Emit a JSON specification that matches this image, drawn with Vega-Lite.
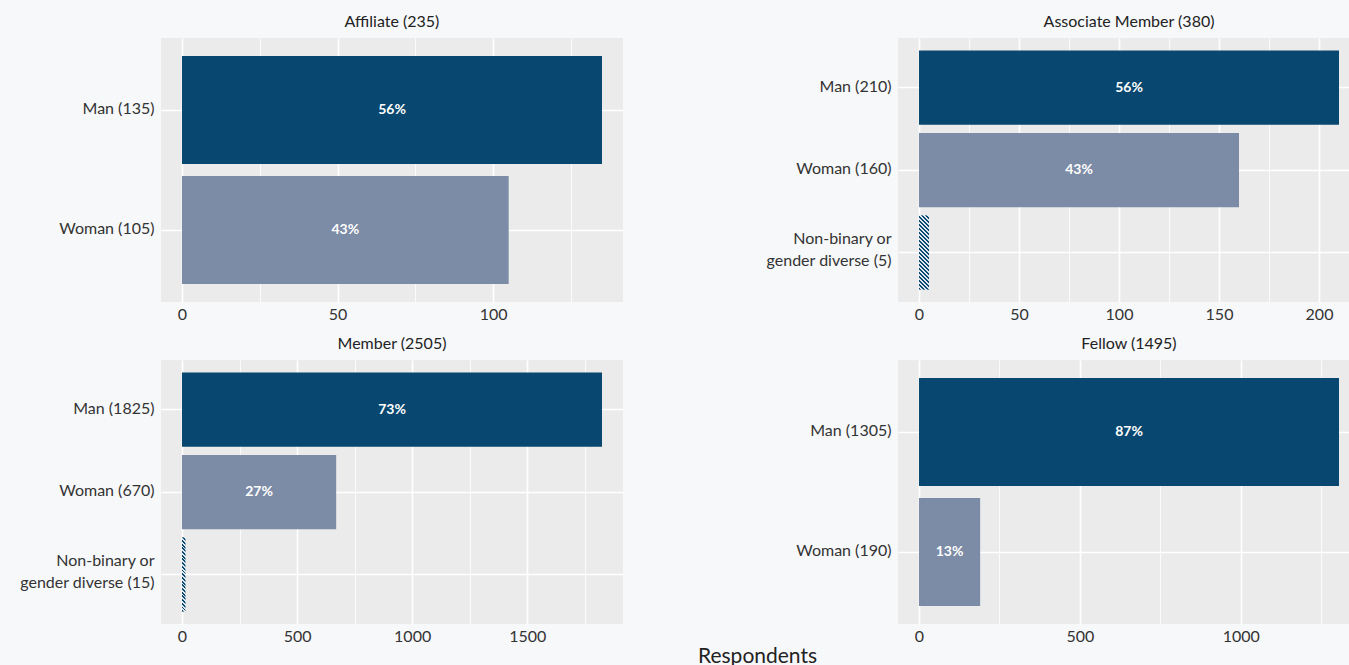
{
  "$schema": "https://vega.github.io/schema/vega-lite/v6.json",
  "background": "#f7f8fa",
  "padding": {"left": 5, "top": 14, "right": 0, "bottom": 0},
  "config": {
    "font": "Lato",
    "view": {"fill": "#ebebeb", "stroke": null},
    "axis": {"labelFont": "Lato", "labelFontSize": 16, "labelColor": "#333333", "ticks": false, "domain": false, "gridColor": "#ffffff"},
    "title": {"font": "Lato", "fontSize": 16, "fontWeight": "normal", "color": "#222222", "offset": 8}
  },
  "title": {"text": "Respondents", "orient": "bottom", "anchor": "middle", "fontSize": 21, "offset": 2, "dx": 75},
  "data": {"values": [
    {"panel": "Affiliate", "label": "Man (135)", "gender": "Man", "n": 135, "pct": "56%", "order": 1},
    {"panel": "Affiliate", "label": "Woman (105)", "gender": "Woman", "n": 105, "pct": "43%", "order": 2},
    {"panel": "Associate", "label": "Man (210)", "gender": "Man", "n": 210, "pct": "56%", "order": 1},
    {"panel": "Associate", "label": "Woman (160)", "gender": "Woman", "n": 160, "pct": "43%", "order": 2},
    {"panel": "Associate", "label": "Non-binary or\ngender diverse (5)", "gender": "Non-binary", "n": 5, "pct": "", "order": 3},
    {"panel": "Member", "label": "Man (1825)", "gender": "Man", "n": 1825, "pct": "73%", "order": 1},
    {"panel": "Member", "label": "Woman (670)", "gender": "Woman", "n": 670, "pct": "27%", "order": 2},
    {"panel": "Member", "label": "Non-binary or\ngender diverse (15)", "gender": "Non-binary", "n": 15, "pct": "", "order": 3},
    {"panel": "Fellow", "label": "Man (1305)", "gender": "Man", "n": 1305, "pct": "87%", "order": 1},
    {"panel": "Fellow", "label": "Woman (190)", "gender": "Woman", "n": 190, "pct": "13%", "order": 2}
  ]},
  "columns": 2,
  "spacing": {"row": 14, "column": 142},
  "resolve": {"scale": {"x": "independent", "y": "independent"}},
  "concat": [
    {
      "title": "Affiliate (235)",
      "width": 462, "height": 264,
      "transform": [{"filter": "datum.panel === 'Affiliate'"}],
      "encoding": {"y": {"field": "label", "type": "nominal", "sort": {"field": "order", "op": "min"}, "scale": {"paddingInner": 0.1, "paddingOuter": 0.15}, "axis": {"title": null, "labelPadding": 7, "labelExpr": "split(datum.label, '\\n')", "labelLineHeight": 22, "labelOffset": {"condition": {"test": "indexof(datum.value, '\\n') >= 0", "value": -14}, "value": -1}, "labelLimit": 300, "minExtent": 156, "maxExtent": 156, "grid": true, "gridWidth": 1.6, "bandPosition": 0.5}}},
      "layer": [
        {"transform": [{"filter": "datum.gender !== 'Non-binary'"}], "mark": {"type": "bar"},
         "encoding": {"x": {"field": "n", "type": "quantitative", "scale": {"domain": [-6.75, 141.75], "nice": false, "zero": false}, "axis": {"title": null, "values": [0, 25, 50, 75, 100, 125], "format": "d", "labelExpr": "datum.value % 50 === 0 ? datum.label : ''", "labelPadding": 4, "gridWidth": {"condition": {"test": "datum.value % 50 === 0", "value": 1.6}, "value": 0.8}}},
           "color": {"field": "gender", "type": "nominal", "scale": {"domain": ["Man", "Woman"], "range": ["#08476f", "#7c8ba6"]}, "legend": null}}},
        {"transform": [{"filter": "datum.pct !== ''"}], "mark": {"type": "text", "color": "#ffffff", "fontWeight": "bold", "fontSize": 14, "font": "Lato"},
         "encoding": {"x": {"field": "n", "type": "quantitative", "scale": {"domain": [-13.5, 283.5], "nice": false, "zero": false}, "axis": null}, "text": {"field": "pct"}}}
      ],
      "resolve": {"scale": {"x": "independent"}}
    },
    {
      "title": "Associate Member (380)",
      "width": 462, "height": 264,
      "transform": [{"filter": "datum.panel === 'Associate'"}],
      "encoding": {"y": {"field": "label", "type": "nominal", "sort": {"field": "order", "op": "min"}, "scale": {"paddingInner": 0.1, "paddingOuter": 0.15}, "axis": {"title": null, "labelPadding": 7, "labelExpr": "split(datum.label, '\\n')", "labelLineHeight": 22, "labelOffset": {"condition": {"test": "indexof(datum.value, '\\n') >= 0", "value": -14}, "value": -1}, "labelLimit": 300, "minExtent": 125, "maxExtent": 125, "grid": true, "gridWidth": 1.6, "bandPosition": 0.5}}},
      "layer": [
        {"transform": [{"filter": "datum.gender !== 'Non-binary'"}], "mark": {"type": "bar"},
         "encoding": {"x": {"field": "n", "type": "quantitative", "scale": {"domain": [-10.5, 220.5], "nice": false, "zero": false}, "axis": {"title": null, "values": [0, 25, 50, 75, 100, 125, 150, 175, 200], "format": "d", "labelExpr": "datum.value % 50 === 0 ? datum.label : ''", "labelPadding": 4, "gridWidth": {"condition": {"test": "datum.value % 50 === 0", "value": 1.6}, "value": 0.8}}},
           "color": {"field": "gender", "type": "nominal", "scale": {"domain": ["Man", "Woman"], "range": ["#08476f", "#7c8ba6"]}, "legend": null}}},
        {"transform": [{"filter": "datum.gender === 'Non-binary'"}],
         "mark": {"type": "bar", "fill": {"gradient": "linear", "x1": 0, "y1": 1, "x2": 0.1505, "y2": -0.115, "stops": [
           {"offset": 0, "color": "#0a4a72"}, {"offset": 0.0238, "color": "#0a4a72"}, {"offset": 0.0238, "color": "#dfe7ee"}, {"offset": 0.0476, "color": "#dfe7ee"},
           {"offset": 0.0476, "color": "#0a4a72"}, {"offset": 0.0714, "color": "#0a4a72"}, {"offset": 0.0714, "color": "#dfe7ee"}, {"offset": 0.0952, "color": "#dfe7ee"},
           {"offset": 0.0952, "color": "#0a4a72"}, {"offset": 0.1190, "color": "#0a4a72"}, {"offset": 0.1190, "color": "#dfe7ee"}, {"offset": 0.1429, "color": "#dfe7ee"},
           {"offset": 0.1429, "color": "#0a4a72"}, {"offset": 0.1667, "color": "#0a4a72"}, {"offset": 0.1667, "color": "#dfe7ee"}, {"offset": 0.1905, "color": "#dfe7ee"},
           {"offset": 0.1905, "color": "#0a4a72"}, {"offset": 0.2143, "color": "#0a4a72"}, {"offset": 0.2143, "color": "#dfe7ee"}, {"offset": 0.2381, "color": "#dfe7ee"},
           {"offset": 0.2381, "color": "#0a4a72"}, {"offset": 0.2619, "color": "#0a4a72"}, {"offset": 0.2619, "color": "#dfe7ee"}, {"offset": 0.2857, "color": "#dfe7ee"},
           {"offset": 0.2857, "color": "#0a4a72"}, {"offset": 0.3095, "color": "#0a4a72"}, {"offset": 0.3095, "color": "#dfe7ee"}, {"offset": 0.3333, "color": "#dfe7ee"},
           {"offset": 0.3333, "color": "#0a4a72"}, {"offset": 0.3571, "color": "#0a4a72"}, {"offset": 0.3571, "color": "#dfe7ee"}, {"offset": 0.3810, "color": "#dfe7ee"},
           {"offset": 0.3810, "color": "#0a4a72"}, {"offset": 0.4048, "color": "#0a4a72"}, {"offset": 0.4048, "color": "#dfe7ee"}, {"offset": 0.4286, "color": "#dfe7ee"},
           {"offset": 0.4286, "color": "#0a4a72"}, {"offset": 0.4524, "color": "#0a4a72"}, {"offset": 0.4524, "color": "#dfe7ee"}, {"offset": 0.4762, "color": "#dfe7ee"},
           {"offset": 0.4762, "color": "#0a4a72"}, {"offset": 0.5000, "color": "#0a4a72"}, {"offset": 0.5000, "color": "#dfe7ee"}, {"offset": 0.5238, "color": "#dfe7ee"},
           {"offset": 0.5238, "color": "#0a4a72"}, {"offset": 0.5476, "color": "#0a4a72"}, {"offset": 0.5476, "color": "#dfe7ee"}, {"offset": 0.5714, "color": "#dfe7ee"},
           {"offset": 0.5714, "color": "#0a4a72"}, {"offset": 0.5952, "color": "#0a4a72"}, {"offset": 0.5952, "color": "#dfe7ee"}, {"offset": 0.6190, "color": "#dfe7ee"},
           {"offset": 0.6190, "color": "#0a4a72"}, {"offset": 0.6429, "color": "#0a4a72"}, {"offset": 0.6429, "color": "#dfe7ee"}, {"offset": 0.6667, "color": "#dfe7ee"},
           {"offset": 0.6667, "color": "#0a4a72"}, {"offset": 0.6905, "color": "#0a4a72"}, {"offset": 0.6905, "color": "#dfe7ee"}, {"offset": 0.7143, "color": "#dfe7ee"},
           {"offset": 0.7143, "color": "#0a4a72"}, {"offset": 0.7381, "color": "#0a4a72"}, {"offset": 0.7381, "color": "#dfe7ee"}, {"offset": 0.7619, "color": "#dfe7ee"},
           {"offset": 0.7619, "color": "#0a4a72"}, {"offset": 0.7857, "color": "#0a4a72"}, {"offset": 0.7857, "color": "#dfe7ee"}, {"offset": 0.8095, "color": "#dfe7ee"},
           {"offset": 0.8095, "color": "#0a4a72"}, {"offset": 0.8333, "color": "#0a4a72"}, {"offset": 0.8333, "color": "#dfe7ee"}, {"offset": 0.8571, "color": "#dfe7ee"},
           {"offset": 0.8571, "color": "#0a4a72"}, {"offset": 0.8810, "color": "#0a4a72"}, {"offset": 0.8810, "color": "#dfe7ee"}, {"offset": 0.9048, "color": "#dfe7ee"},
           {"offset": 0.9048, "color": "#0a4a72"}, {"offset": 0.9286, "color": "#0a4a72"}, {"offset": 0.9286, "color": "#dfe7ee"}, {"offset": 0.9524, "color": "#dfe7ee"},
           {"offset": 0.9524, "color": "#0a4a72"}, {"offset": 0.9762, "color": "#0a4a72"}, {"offset": 0.9762, "color": "#dfe7ee"}, {"offset": 1, "color": "#dfe7ee"}
         ]}},
         "encoding": {"x": {"field": "n", "type": "quantitative", "scale": {"domain": [-10.5, 220.5], "nice": false, "zero": false}, "axis": null}}},
        {"transform": [{"filter": "datum.pct !== ''"}], "mark": {"type": "text", "color": "#ffffff", "fontWeight": "bold", "fontSize": 14, "font": "Lato"},
         "encoding": {"x": {"field": "n", "type": "quantitative", "scale": {"domain": [-21, 441], "nice": false, "zero": false}, "axis": null}, "text": {"field": "pct"}}}
      ],
      "resolve": {"scale": {"x": "independent"}}
    },
    {
      "title": "Member (2505)",
      "width": 462, "height": 264,
      "transform": [{"filter": "datum.panel === 'Member'"}],
      "encoding": {"y": {"field": "label", "type": "nominal", "sort": {"field": "order", "op": "min"}, "scale": {"paddingInner": 0.1, "paddingOuter": 0.15}, "axis": {"title": null, "labelPadding": 7, "labelExpr": "split(datum.label, '\\n')", "labelLineHeight": 22, "labelOffset": {"condition": {"test": "indexof(datum.value, '\\n') >= 0", "value": -14}, "value": -1}, "labelLimit": 300, "minExtent": 156, "maxExtent": 156, "grid": true, "gridWidth": 1.6, "bandPosition": 0.5}}},
      "layer": [
        {"transform": [{"filter": "datum.gender !== 'Non-binary'"}], "mark": {"type": "bar"},
         "encoding": {"x": {"field": "n", "type": "quantitative", "scale": {"domain": [-91.25, 1916.25], "nice": false, "zero": false}, "axis": {"title": null, "values": [0, 250, 500, 750, 1000, 1250, 1500, 1750], "format": "d", "labelExpr": "datum.value % 500 === 0 ? datum.label : ''", "labelPadding": 4, "gridWidth": {"condition": {"test": "datum.value % 500 === 0", "value": 1.6}, "value": 0.8}}},
           "color": {"field": "gender", "type": "nominal", "scale": {"domain": ["Man", "Woman"], "range": ["#08476f", "#7c8ba6"]}, "legend": null}}},
        {"transform": [{"filter": "datum.gender === 'Non-binary'"}],
         "mark": {"type": "bar", "fill": {"gradient": "linear", "x1": 0, "y1": 1, "x2": 0.0484, "y2": -0.0442, "stops": [
           {"offset": 0, "color": "#0a4a72"}, {"offset": 0.0238, "color": "#0a4a72"}, {"offset": 0.0238, "color": "#dfe7ee"}, {"offset": 0.0476, "color": "#dfe7ee"},
           {"offset": 0.0476, "color": "#0a4a72"}, {"offset": 0.0714, "color": "#0a4a72"}, {"offset": 0.0714, "color": "#dfe7ee"}, {"offset": 0.0952, "color": "#dfe7ee"},
           {"offset": 0.0952, "color": "#0a4a72"}, {"offset": 0.1190, "color": "#0a4a72"}, {"offset": 0.1190, "color": "#dfe7ee"}, {"offset": 0.1429, "color": "#dfe7ee"},
           {"offset": 0.1429, "color": "#0a4a72"}, {"offset": 0.1667, "color": "#0a4a72"}, {"offset": 0.1667, "color": "#dfe7ee"}, {"offset": 0.1905, "color": "#dfe7ee"},
           {"offset": 0.1905, "color": "#0a4a72"}, {"offset": 0.2143, "color": "#0a4a72"}, {"offset": 0.2143, "color": "#dfe7ee"}, {"offset": 0.2381, "color": "#dfe7ee"},
           {"offset": 0.2381, "color": "#0a4a72"}, {"offset": 0.2619, "color": "#0a4a72"}, {"offset": 0.2619, "color": "#dfe7ee"}, {"offset": 0.2857, "color": "#dfe7ee"},
           {"offset": 0.2857, "color": "#0a4a72"}, {"offset": 0.3095, "color": "#0a4a72"}, {"offset": 0.3095, "color": "#dfe7ee"}, {"offset": 0.3333, "color": "#dfe7ee"},
           {"offset": 0.3333, "color": "#0a4a72"}, {"offset": 0.3571, "color": "#0a4a72"}, {"offset": 0.3571, "color": "#dfe7ee"}, {"offset": 0.3810, "color": "#dfe7ee"},
           {"offset": 0.3810, "color": "#0a4a72"}, {"offset": 0.4048, "color": "#0a4a72"}, {"offset": 0.4048, "color": "#dfe7ee"}, {"offset": 0.4286, "color": "#dfe7ee"},
           {"offset": 0.4286, "color": "#0a4a72"}, {"offset": 0.4524, "color": "#0a4a72"}, {"offset": 0.4524, "color": "#dfe7ee"}, {"offset": 0.4762, "color": "#dfe7ee"},
           {"offset": 0.4762, "color": "#0a4a72"}, {"offset": 0.5000, "color": "#0a4a72"}, {"offset": 0.5000, "color": "#dfe7ee"}, {"offset": 0.5238, "color": "#dfe7ee"},
           {"offset": 0.5238, "color": "#0a4a72"}, {"offset": 0.5476, "color": "#0a4a72"}, {"offset": 0.5476, "color": "#dfe7ee"}, {"offset": 0.5714, "color": "#dfe7ee"},
           {"offset": 0.5714, "color": "#0a4a72"}, {"offset": 0.5952, "color": "#0a4a72"}, {"offset": 0.5952, "color": "#dfe7ee"}, {"offset": 0.6190, "color": "#dfe7ee"},
           {"offset": 0.6190, "color": "#0a4a72"}, {"offset": 0.6429, "color": "#0a4a72"}, {"offset": 0.6429, "color": "#dfe7ee"}, {"offset": 0.6667, "color": "#dfe7ee"},
           {"offset": 0.6667, "color": "#0a4a72"}, {"offset": 0.6905, "color": "#0a4a72"}, {"offset": 0.6905, "color": "#dfe7ee"}, {"offset": 0.7143, "color": "#dfe7ee"},
           {"offset": 0.7143, "color": "#0a4a72"}, {"offset": 0.7381, "color": "#0a4a72"}, {"offset": 0.7381, "color": "#dfe7ee"}, {"offset": 0.7619, "color": "#dfe7ee"},
           {"offset": 0.7619, "color": "#0a4a72"}, {"offset": 0.7857, "color": "#0a4a72"}, {"offset": 0.7857, "color": "#dfe7ee"}, {"offset": 0.8095, "color": "#dfe7ee"},
           {"offset": 0.8095, "color": "#0a4a72"}, {"offset": 0.8333, "color": "#0a4a72"}, {"offset": 0.8333, "color": "#dfe7ee"}, {"offset": 0.8571, "color": "#dfe7ee"},
           {"offset": 0.8571, "color": "#0a4a72"}, {"offset": 0.8810, "color": "#0a4a72"}, {"offset": 0.8810, "color": "#dfe7ee"}, {"offset": 0.9048, "color": "#dfe7ee"},
           {"offset": 0.9048, "color": "#0a4a72"}, {"offset": 0.9286, "color": "#0a4a72"}, {"offset": 0.9286, "color": "#dfe7ee"}, {"offset": 0.9524, "color": "#dfe7ee"},
           {"offset": 0.9524, "color": "#0a4a72"}, {"offset": 0.9762, "color": "#0a4a72"}, {"offset": 0.9762, "color": "#dfe7ee"}, {"offset": 1, "color": "#dfe7ee"}
         ]}},
         "encoding": {"x": {"field": "n", "type": "quantitative", "scale": {"domain": [-91.25, 1916.25], "nice": false, "zero": false}, "axis": null}}},
        {"transform": [{"filter": "datum.pct !== ''"}], "mark": {"type": "text", "color": "#ffffff", "fontWeight": "bold", "fontSize": 14, "font": "Lato"},
         "encoding": {"x": {"field": "n", "type": "quantitative", "scale": {"domain": [-182.5, 3832.5], "nice": false, "zero": false}, "axis": null}, "text": {"field": "pct"}}}
      ],
      "resolve": {"scale": {"x": "independent"}}
    },
    {
      "title": "Fellow (1495)",
      "width": 462, "height": 264,
      "transform": [{"filter": "datum.panel === 'Fellow'"}],
      "encoding": {"y": {"field": "label", "type": "nominal", "sort": {"field": "order", "op": "min"}, "scale": {"paddingInner": 0.1, "paddingOuter": 0.15}, "axis": {"title": null, "labelPadding": 7, "labelExpr": "split(datum.label, '\\n')", "labelLineHeight": 22, "labelOffset": {"condition": {"test": "indexof(datum.value, '\\n') >= 0", "value": -14}, "value": -1}, "labelLimit": 300, "minExtent": 125, "maxExtent": 125, "grid": true, "gridWidth": 1.6, "bandPosition": 0.5}}},
      "layer": [
        {"transform": [{"filter": "datum.gender !== 'Non-binary'"}], "mark": {"type": "bar"},
         "encoding": {"x": {"field": "n", "type": "quantitative", "scale": {"domain": [-65.25, 1370.25], "nice": false, "zero": false}, "axis": {"title": null, "values": [0, 250, 500, 750, 1000, 1250], "format": "d", "labelExpr": "datum.value % 500 === 0 ? datum.label : ''", "labelPadding": 4, "gridWidth": {"condition": {"test": "datum.value % 500 === 0", "value": 1.6}, "value": 0.8}}},
           "color": {"field": "gender", "type": "nominal", "scale": {"domain": ["Man", "Woman"], "range": ["#08476f", "#7c8ba6"]}, "legend": null}}},
        {"transform": [{"filter": "datum.pct !== ''"}], "mark": {"type": "text", "color": "#ffffff", "fontWeight": "bold", "fontSize": 14, "font": "Lato"},
         "encoding": {"x": {"field": "n", "type": "quantitative", "scale": {"domain": [-130.5, 2740.5], "nice": false, "zero": false}, "axis": null}, "text": {"field": "pct"}}}
      ],
      "resolve": {"scale": {"x": "independent"}}
    }
  ]
}
